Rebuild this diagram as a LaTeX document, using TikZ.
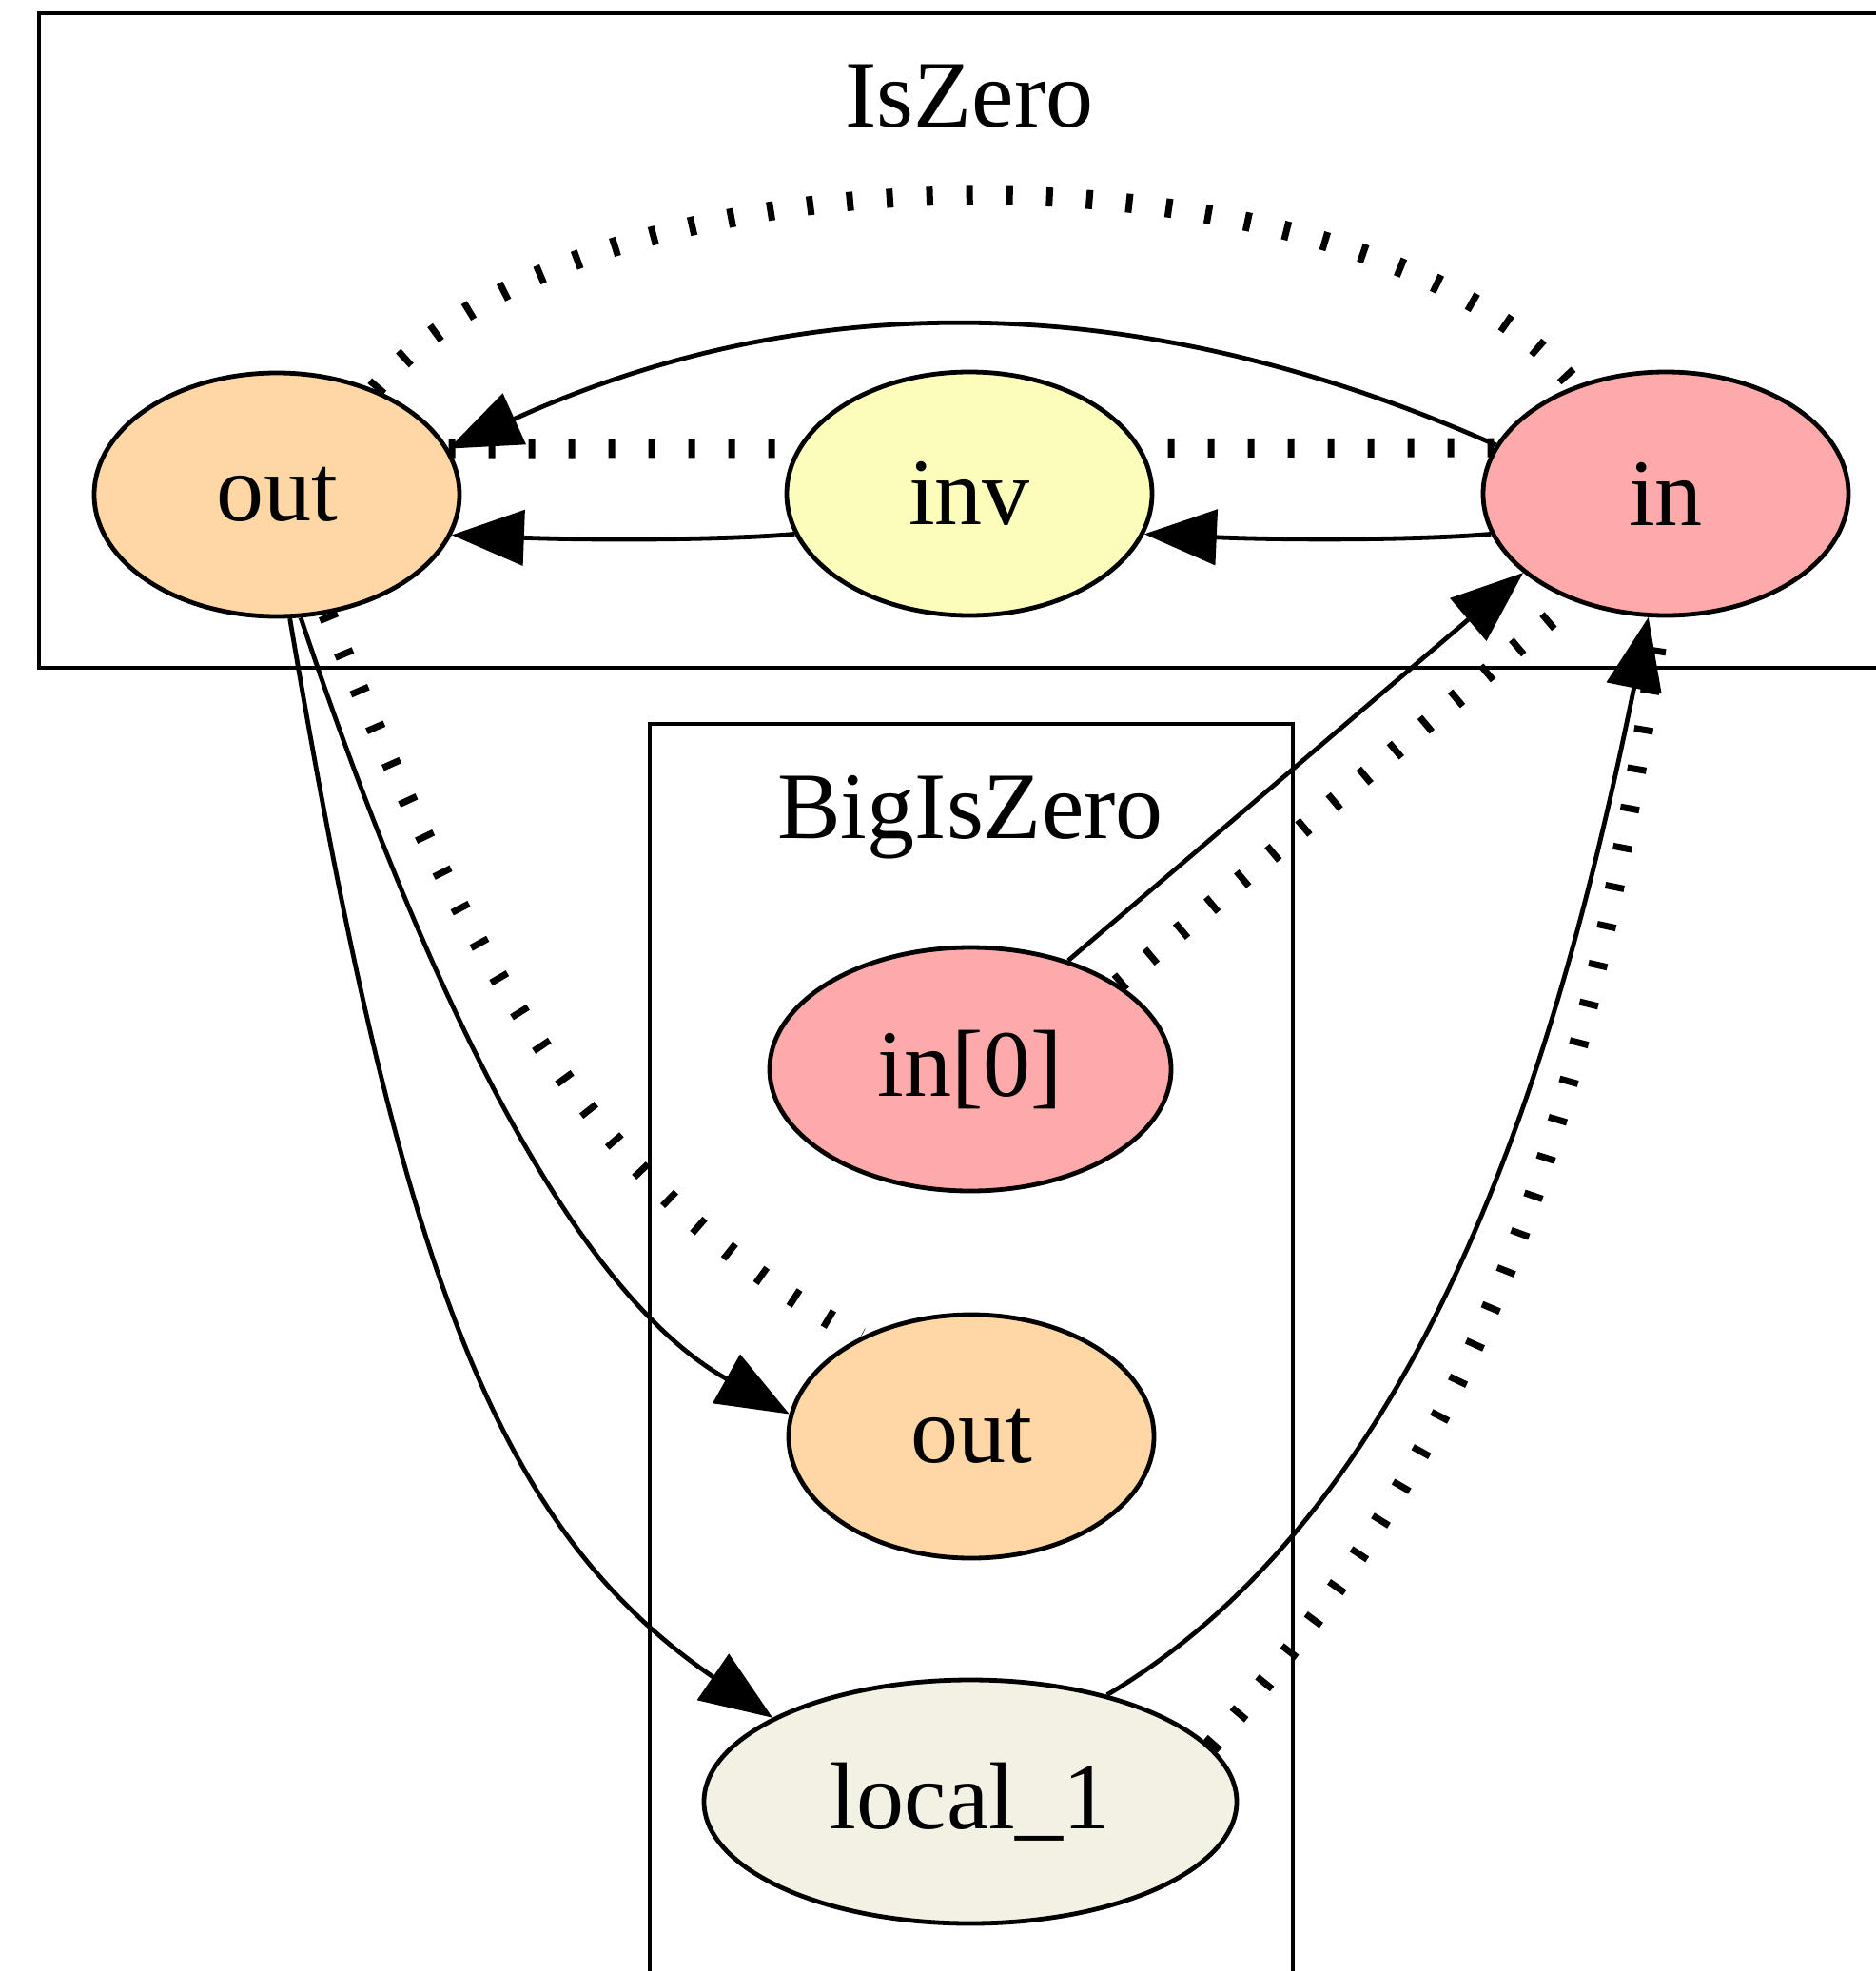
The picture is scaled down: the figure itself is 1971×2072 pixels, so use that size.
\documentclass[tikz,border=0pt]{standalone}
\usepackage{fontspec}
\setmainfont{Liberation Serif}
\usetikzlibrary{arrows.meta,shapes.geometric}
\pgfdeclarelayer{back}
\pgfsetlayers{back,main}
\definecolor{outc}{RGB}{254,215,165}
\definecolor{invc}{RGB}{253,253,187}
\definecolor{inc}{RGB}{254,170,170}
\definecolor{locc}{RGB}{243,241,228}
\begin{document}
\begin{tikzpicture}[x=0.5pt,y=-0.5pt,
  vertex/.style={ellipse,draw,line width=2.4pt,inner sep=0pt,minimum height=128pt,
    minimum width=192pt,font=\fontsize{50}{60}\selectfont},
  clabel/.style={anchor=base,inner sep=0pt,font=\fontsize{50}{60}\selectfont},
  cluster/.style={draw,line width=2.4pt},
  solidedge/.style={line width=2.4pt,-{Triangle[length=38pt,width=29pt]}},
  dotedge/.style={line width=10pt,dash pattern=on 3.5pt off 17.5pt}]
\useasboundingbox (0,0) rectangle (1971,2072);
\clip (0,0) rectangle (1971,2072);
% nodes
\node[vertex,fill=outc] (outA) at (291,520) {out};
\node[vertex,fill=invc] (inv) at (1019,519) {inv};
\node[vertex,fill=inc] (inA) at (1751,519) {in};
\node[vertex,fill=inc,minimum width=211pt] (in0) at (1020,1124) {in[0]};
\node[vertex,fill=outc] (outB) at (1021,1510) {out};
\node[vertex,fill=locc,minimum width=280pt] (loc) at (1020,1894) {local\_1};
\node[clabel] (lblA) at (1019,133) {IsZero};
\node[clabel] (lblB) at (1020,881) {BigIsZero};
\begin{pgfonlayer}{back}
\draw[cluster] (41,14) rectangle (2100,702);
\draw[cluster] (683,761) rectangle (1359,2200);
% solid edges
\draw[solidedge] (inA.164.4) .. controls (1192,299) and (844,303) .. (outA.15.2);
\draw[solidedge] (inv.193.2) .. controls (760,568) and (620,568) .. (outA.-13.1);
\draw[solidedge] (inA.193.3) .. controls (1490,568) and (1350,568) .. (inv.-13.3);
\draw[solidedge] (in0.48.5) -- (inA.209.1);
\draw[solidedge] (outA.-79.5) .. controls (427,982) and (586,1350) .. (outB.173.1);
\draw[solidedge] (outA.-84.7) .. controls (421,1340) and (522,1607) .. (loc.157.5);
\draw[solidedge] (loc.38) .. controls (1510,1576) and (1643,1088) .. (inA.-98.9);
% dotted edges
\draw[dotedge] (outA.47.8) .. controls (616,140) and (1433,136) .. (inA.130.4);
\draw[dotedge] (outA.15) -- (inA.165);
\draw[dotedge] (outA.-67.9) .. controls (488,992) and (609,1248) .. (outB.138.5);
\draw[dotedge] (in0.30.5) -- (inA.229.3);
\draw[dotedge] (loc.13.8) .. controls (1583,1488) and (1671,1144) .. (inA.-92);
\end{pgfonlayer}
\end{tikzpicture}
\end{document}
